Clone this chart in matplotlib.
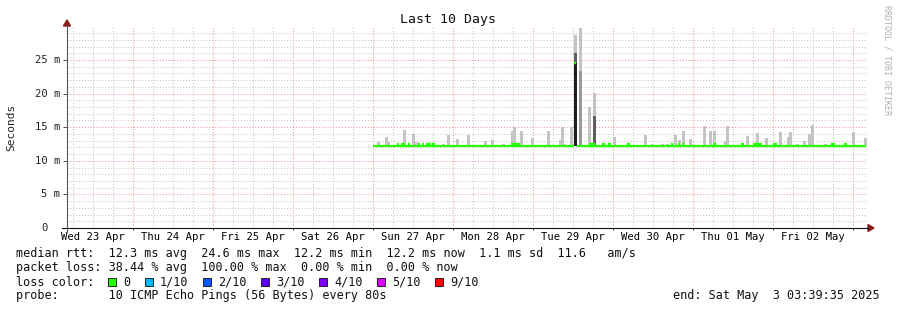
import matplotlib
matplotlib.use('Agg')
import matplotlib.pyplot as plt
from matplotlib.patches import Rectangle, Polygon
from matplotlib.lines import Line2D

# ---------------- data ----------------
# time axis: hours relative to Sun 27 Apr 2025 00:00
x_start, x_end = -91.8, 148.2
day_label_hours = [-84, -60, -36, -12, 12, 36, 60, 84, 108, 132]
day_labels = ['Wed 23 Apr', 'Thu 24 Apr', 'Fri 25 Apr', 'Sat 26 Apr', 'Sun 27 Apr',
              'Mon 28 Apr', 'Tue 29 Apr', 'Wed 30 Apr', 'Thu 01 May', 'Fri 02 May']
y_tick_vals = [0, 5, 10, 15, 20, 25]
y_tick_labels = ['0', '5 m', '10 m', '15 m', '20 m', '25 m']

# smoke (ping spread) per bin, ms
spike_hours = [1.5, 3.9, 4.65, 9.3, 12.15, 12.9, 21.0, 22.5, 25.2, 28.5, 33.75, 35.85,
               39.15, 41.7, 42.3, 44.4, 47.7, 52.5, 56.1, 56.7, 57.3, 59.4, 60.75, 62.1,
               64.95, 66.3, 72.3, 81.6, 83.85, 86.85, 88.2, 90.75, 91.8, 93.0, 95.1,
               99.3, 101.25, 102.45, 105.6, 106.35, 112.2, 115.2, 117.9, 122.1, 124.5,
               125.25, 127.35, 129.3, 130.95, 131.7, 135.6, 144.15, 147.75]
spike_max = [12.8, 13.5, 12.8, 14.6, 14.0, 12.8, 12.5, 13.9, 13.2, 13.9, 13.0, 13.1,
             12.5, 14.5, 15.1, 14.5, 13.4, 14.4, 13.1, 15.0, 12.5, 15.1, 28.7, 29.7,
             18.0, 20.1, 13.5, 13.9, 12.5, 12.5, 12.5, 13.9, 13.1, 14.5, 13.3,
             15.2, 14.4, 14.4, 13.0, 15.2, 13.7, 14.2, 13.4, 14.3, 13.5,
             14.3, 12.5, 12.9, 14.0, 15.3, 12.5, 14.3, 13.4]
# denser layers of the smoke (only for the big spikes)
mid_hours, mid_top = [62.1], [23.3]
dark_hours, dark_top = [60.75, 66.3], [26.0, 16.6]
core_hours, core_top = [60.75], [24.6]

# median rtt (ms)
median_base = 12.2
base_start = [0.0, 61.2]
base_end = [60.3, 147.9]
bump_start = [7.2, 8.4, 10.5, 13.5, 14.7, 15.9, 17.7, 41.4, 60.3, 64.8, 68.7, 70.5, 76.2,
              89.4, 91.5, 92.7, 102.0, 110.4, 114.0, 120.0, 137.4, 141.3]
bump_end = [7.8, 9.6, 11.1, 14.1, 15.3, 17.4, 18.6, 44.1, 60.9, 66.6, 69.6, 71.4, 77.1,
            90.0, 92.1, 93.3, 102.9, 111.3, 116.7, 121.2, 138.6, 142.2]
bump_val = [12.5, 12.5, 12.5, 12.5, 12.5, 12.5, 12.5, 12.5, 24.6, 12.5, 12.5, 12.5, 12.5,
            12.5, 12.5, 12.5, 12.5, 12.5, 12.5, 12.5, 12.5, 12.5]

loss_labels = ['0', '1/10', '2/10', '3/10', '4/10', '5/10', '9/10']
loss_colors = ['#26ff00', '#00b8ff', '#0059ff', '#5e00ff', '#7e00ff', '#dd00ff', '#ff0000']

title = 'Last 10 Days'
line_rtt = "median rtt:  12.3 ms avg  24.6 ms max  12.2 ms min  12.2 ms now  1.1 ms sd  11.6   am/s"
line_loss = "packet loss: 38.44 % avg  100.00 % max  0.00 % min  0.00 % now"
line_color = "loss color:"
line_probe = "probe:       10 ICMP Echo Pings (56 Bytes) every 80s"
line_end = "end: Sat May  3 03:39:35 2025"

# ---------------- figure ----------------
W, H = 897, 310
fig = plt.figure(figsize=(W / 100, H / 100), dpi=100)
fig.patch.set_facecolor('white')
MONO = 'DejaVu Sans Mono'


def fx(x):
    return x / W


def fy(y):
    return 1 - y / H


ax = fig.add_axes([fx(67), fy(228), 800 / W, (228 - 27) / H])
ax.set_facecolor('white')
ax.set_xlim(x_start, x_end)
ax.set_ylim(0, 29.91)
for s in ax.spines.values():
    s.set_visible(False)

# grid
minor_c, major_c = '#c2c2c2', '#ee9090'
gkw = dict(lw=0.65, antialiased=True)
for v in range(1, 30):
    if v % 5:
        ax.axhline(v, color=minor_c, ls=(0, (1.2, 2.0)), zorder=0, **gkw)
for v in range(5, 30, 5):
    ax.axhline(v, color=major_c, ls=(0, (1.2, 2.0)), zorder=0.5, **gkw)
h = -90
while h < x_end:
    if h % 24:
        ax.axvline(h, color=minor_c, ls=(0, (1.2, 2.0)), zorder=0, **gkw)
    else:
        ax.axvline(h, color=major_c, ls=(0, (1.2, 2.0)), zorder=0.5, **gkw)
    h += 6

# smoke
bw = 0.9
ax.bar(spike_hours, [m - median_base for m in spike_max], bottom=median_base, width=bw,
       color='#c4c4c4', linewidth=0, zorder=2)
ax.bar(mid_hours, [m - median_base for m in mid_top], bottom=median_base, width=bw,
       color='#9a9a9a', linewidth=0, zorder=2.1)
ax.bar(dark_hours, [m - median_base for m in dark_top], bottom=median_base, width=bw,
       color='#606060', linewidth=0, zorder=2.2)
ax.bar(core_hours, [m - median_base for m in core_top], bottom=median_base, width=bw,
       color='#1e1e1e', linewidth=0, zorder=2.3)

# median line
ax.hlines([median_base] * len(base_start), base_start, base_end, color='#26ff00',
          lw=1.6, zorder=3)
ax.hlines(bump_val, bump_start, bump_end, color='#26ff00', lw=1.6, zorder=3)

# ticks
ax.set_xticks(day_label_hours)
ax.set_xticklabels(day_labels, fontfamily=MONO, fontsize=7.6)
ax.set_xticks(list(range(-72, 145, 24)), minor=True)
ax.tick_params(axis='x', which='major', length=0, pad=3.0)
ax.tick_params(axis='x', which='minor', length=1.6, width=0.72, color='#333333')
ax.set_yticks(y_tick_vals)
ax.set_yticklabels([])
ax.tick_params(axis='y', which='major', length=3.2, width=0.72, color='#555555', pad=0)
ax.tick_params(axis='y', which='minor', length=0)

for v, lab in zip(y_tick_vals, y_tick_labels):
    right = 60 if lab != '0' else 60 - 2 * 6.36
    fig.text(fx(right), fy(228 - v * 6.72), lab, ha='right', va='center',
             fontfamily=MONO, fontsize=7.6, color='#222222')

# axes lines + arrows
fig.add_artist(Line2D([fx(62), fx(868)], [fy(228), fy(228)], color='#111111', lw=0.8))
fig.add_artist(Line2D([fx(67), fx(67)], [fy(232), fy(25)], color='#555555', lw=0.8))
fig.add_artist(Polygon([[fx(63.5), fy(26)], [fx(70.5), fy(26)], [fx(67), fy(20)]],
                       closed=True, color='#8b1a1a', transform=fig.transFigure))
fig.add_artist(Polygon([[fx(868), fy(224.5)], [fx(868), fy(231.5)], [fx(874), fy(228)]],
                       closed=True, color='#8b1a1a', transform=fig.transFigure))

# texts
fig.text(fx(448), fy(20), title, ha='center', va='center', fontfamily=MONO,
         fontsize=9.5, color='#111111')
fig.text(fx(11), fy(127), 'Seconds', rotation=90, ha='center', va='center',
         fontfamily=MONO, fontsize=8, color='#222222')
fig.text(fx(887), fy(60), 'RRDTOOL / TOBI OETIKER', rotation=-90, ha='center',
         va='center', fontfamily=MONO, fontsize=6, color='#b0b0b0')

LFS = 8.5
fig.text(fx(16), fy(254), line_rtt, ha='left', va='center', fontfamily=MONO, fontsize=LFS,
         color='#111111')
fig.text(fx(16), fy(268), line_loss, ha='left', va='center', fontfamily=MONO, fontsize=LFS,
         color='#111111')
fig.text(fx(16), fy(282), line_color, ha='left', va='center', fontfamily=MONO, fontsize=LFS,
         color='#111111')
fig.text(fx(16), fy(296), line_probe, ha='left', va='center', fontfamily=MONO, fontsize=LFS,
         color='#111111')
fig.text(fx(880), fy(296), line_end, ha='right', va='center', fontfamily=MONO,
         fontsize=LFS, color='#111111')

sq_x = [108, 145, 203, 261, 319, 377, 435]
for sx, lab, col in zip(sq_x, loss_labels, loss_colors):
    fig.add_artist(Rectangle((fx(sx), fy(286)), 8 / W, 8 / H, transform=fig.transFigure,
                             facecolor=col, edgecolor='#222222', lw=0.7))
    fig.text(fx(sx + 15), fy(282), lab, ha='left', va='center', fontfamily=MONO,
             fontsize=LFS, color='#111111')

fig.savefig('out.png', dpi=100, facecolor='white')
